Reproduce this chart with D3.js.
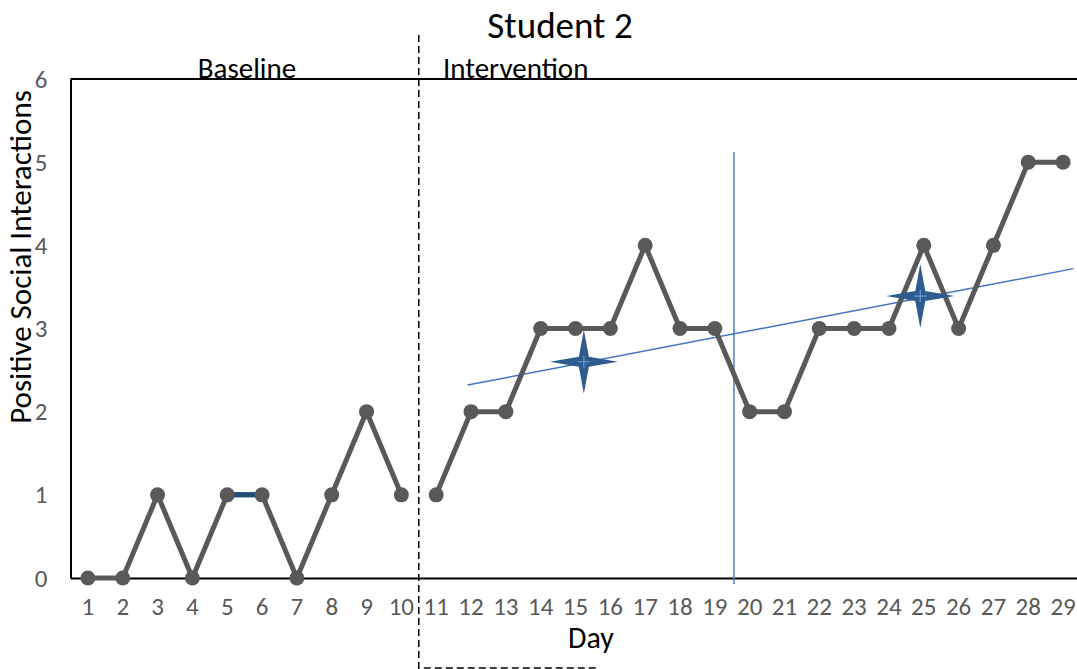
<!DOCTYPE html>
<html><head><meta charset="utf-8">
<script src="https://cdn.jsdelivr.net/npm/d3@7"></script>
<style>body{margin:0;background:#fff;} text{font-family:Carlito, Lato, "Open Sans", sans-serif;}</style>
</head><body>
<svg id="chart" width="1077" height="669"></svg>
<script>
const days = d3.range(1, 30).map(String);
const baselineDays = [1,2,3,4,5,6,7,8,9,10];
const baselineValues = [0,0,1,0,1,1,0,1,2,1];
const interventionDays = [11,12,13,14,15,16,17,18,19,20,21,22,23,24,25,26,27,28,29];
const interventionValues = [1,2,2,3,3,3,4,3,3,2,2,3,3,3,4,3,4,5,5];
const yTicks = [0,1,2,3,4,5,6];
const trendStart = [11.9, 2.32];
const trendEnd = [29.3, 3.72];
const splitDay = 19.55;
const stars = [[15.24, 2.6], [24.9, 3.39]];

const svg = d3.select("#chart");
const L = 70.5, R = 1080.5, T = 79, B = 578;
const x = d3.scaleBand().domain(days).range([L, R]);
const xc = d => x(String(Math.floor(d))) + x.bandwidth()/2 + (d - Math.floor(d)) * x.step();
const y = d3.scaleLinear().domain([0, 6]).range([B, T]);

// frame
svg.append("line").attr("x1", L).attr("x2", R).attr("y1", T).attr("y2", T).attr("stroke", "#000").attr("stroke-width", 2);
const yAxis = svg.append("g").attr("transform", `translate(${L},0)`)
  .call(d3.axisLeft(y).tickValues(yTicks).tickSize(0).tickPadding(23).tickFormat(d3.format("d")));
yAxis.select(".domain").attr("stroke", "#000").attr("stroke-width", 2);
yAxis.selectAll("text").attr("fill", "#595959").attr("font-size", 25);
const xAxis = svg.append("g").attr("transform", `translate(0,${B})`)
  .call(d3.axisBottom(x).tickSize(0).tickPadding(19));
xAxis.select(".domain").attr("stroke", "#000").attr("stroke-width", 2);
xAxis.selectAll("text").attr("fill", "#595959").attr("font-size", 25);

// phase change line
const phaseX = (xc(10) + xc(11)) / 2;
svg.append("path").attr("d", `M${phaseX},35 V668 H598`).attr("fill", "none")
  .attr("stroke", "#000").attr("stroke-width", 1.5).attr("stroke-dasharray", "7,4");

// vertical split
svg.append("line").attr("x1", xc(splitDay)).attr("x2", xc(splitDay)).attr("y1", 152).attr("y2", 584)
  .attr("stroke", "#4a7ebb").attr("stroke-width", 1.5);

// trend line
svg.append("line").attr("x1", xc(trendStart[0])).attr("y1", y(trendStart[1]))
  .attr("x2", xc(trendEnd[0])).attr("y2", y(trendEnd[1]))
  .attr("stroke", "#4472c4").attr("stroke-width", 1.5);

const line = d3.line().x(d => xc(d[0])).y(d => y(d[1]));
const bl = baselineDays.map((d, i) => [d, baselineValues[i]]);
const iv = interventionDays.map((d, i) => [d, interventionValues[i]]);
[bl, iv].forEach(pts => {
  svg.append("path").attr("d", line(pts)).attr("fill", "none").attr("stroke", "#595959")
    .attr("stroke-width", 5).attr("stroke-linejoin", "round");
});
// highlighted segment 5-6
svg.append("path").attr("d", line([bl[4], bl[5]])).attr("stroke", "#1f4e79").attr("stroke-width", 5);
[...bl, ...iv].forEach(p => {
  svg.append("circle").attr("cx", xc(p[0])).attr("cy", y(p[1])).attr("r", 7.5).attr("fill", "#595959");
});

// stars
stars.forEach(s => {
  const cx = xc(s[0]), cy = y(s[1]);
  const w = 34, h = 32, k = 5;
  const d = `M${cx-w},${cy} L${cx-k},${cy-k} L${cx},${cy-h} L${cx+k},${cy-k} L${cx+w},${cy} L${cx+k},${cy+k} L${cx},${cy+h} L${cx-k},${cy+k} Z`;
  svg.append("path").attr("d", d).attr("fill", "#2e5c8f");
  svg.append("path").attr("d", `M${cx-6},${cy}H${cx+6}M${cx},${cy-6}V${cy+6}`).attr("stroke", "#6f9bd1").attr("stroke-width", 1.2);
});

// texts
svg.append("text").attr("x", 560).attr("y", 38).attr("text-anchor", "middle").attr("font-size", 37).text("Student 2");
svg.append("text").attr("x", 247).attr("y", 78).attr("text-anchor", "middle").attr("font-size", 29).text("Baseline");
svg.append("text").attr("x", 443).attr("y", 78).attr("font-size", 29).text("Intervention");
svg.append("text").attr("x", 591).attr("y", 648).attr("text-anchor", "middle").attr("font-size", 30).text("Day");
svg.append("text").attr("transform", "translate(31,257) rotate(-90)").attr("text-anchor", "middle").attr("font-size", 31).text("Positive Social Interactions");
</script>
</body></html>
